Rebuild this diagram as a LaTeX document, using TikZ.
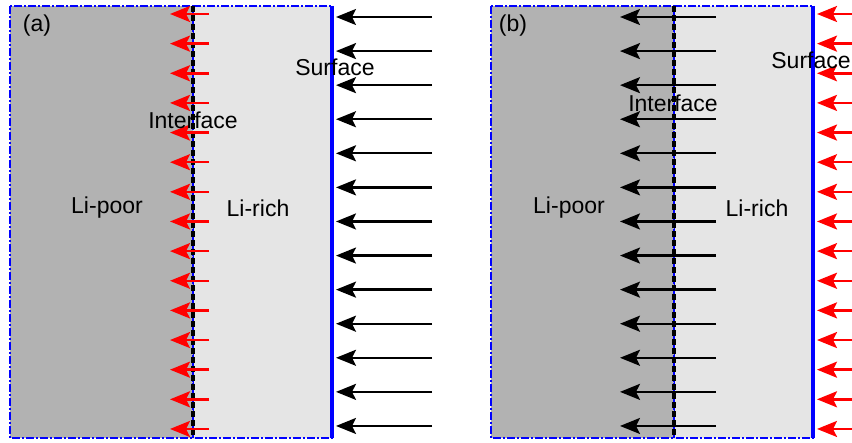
\documentclass[tikz,border=0pt]{standalone}
\usepackage{fontspec}
\setmainfont{Liberation Sans}
\usetikzlibrary{arrows.meta}
\definecolor{poor}{gray}{0.70}
\definecolor{rich}{gray}{0.90}
\tikzset{
  lbl/.style={font=\fontsize{23}{27}\selectfont, inner sep=0pt},
  region/.style={draw=blue, line width=1.3pt, dash pattern=on 8pt off 2pt on 2pt off 2pt},
  surf/.style={blue, line width=3.2pt},
  iface/.style={black, line width=4pt, dash pattern=on 6pt off 3pt},
  iline/.style={blue, line width=1pt, dash pattern=on 6pt off 2pt on 1.5pt off 2pt},
  blackarr/.style={black, line width=2.3pt, -{Stealth[length=20pt, width=16pt, inset=4pt]}},
  redarr/.style={red, line width=2.5pt, -{Stealth[length=20pt, width=16pt, inset=4pt]}},
}
\begin{document}
\begin{tikzpicture}[x=1pt, y=-1pt]
\useasboundingbox (0,0) rectangle (852,443);
\clip (0,0) rectangle (852,443);
% ---------- panel (a) ----------
\fill[poor] (10,6) rectangle (193,438);
\fill[rich] (193,6) rectangle (332,438);
\draw[region] (10,6) rectangle (193,438);
\draw[region] (193,6) rectangle (332,438);
\coordinate (aIT) at (193,6); \coordinate (aIB) at (193,438);
\coordinate (aST) at (332,6); \coordinate (aSB) at (332,438);
\draw[iline] (aIT) -- (aIB);
\draw[iface] (aIT) -- (aIB);
\draw[surf] (aST) -- (aSB);
\foreach \i in {0,...,12} {
  \coordinate (abt\i) at (432, 17+34.08*\i);
  \coordinate (abh\i) at (336, 17+34.08*\i);
  \draw[blackarr] (abt\i) -- (abh\i);
}
\foreach \i in {0,...,14} {
  \coordinate (art\i) at (209, 14+29.64*\i);
  \coordinate (arh\i) at (170, 14+29.64*\i);
  \draw[redarr] (art\i) -- (arh\i);
}
\node[lbl] (alab) at (37,26) {(a)};
\node[lbl] (apoor) at (107,208) {Li-poor};
\node[lbl] (arich) at (258,208) {Li-rich};
\node[lbl] (aint) at (193,120) {Interface};
\node[lbl] (asurf) at (335,67) {Surface};
% ---------- panel (b) ----------
\fill[poor] (491,6) rectangle (674,438);
\fill[rich] (674,6) rectangle (813,438);
\draw[region] (491,6) rectangle (674,438);
\draw[region] (674,6) rectangle (813,438);
\coordinate (bIT) at (674,6); \coordinate (bIB) at (674,438);
\coordinate (bST) at (813,6); \coordinate (bSB) at (813,438);
\draw[iline] (bIT) -- (bIB);
\draw[iface] (bIT) -- (bIB);
\draw[surf] (bST) -- (bSB);
\foreach \i in {0,...,12} {
  \coordinate (bbt\i) at (716, 17+34.08*\i);
  \coordinate (bbh\i) at (620, 17+34.08*\i);
  \draw[blackarr] (bbt\i) -- (bbh\i);
}
\foreach \i in {0,...,14} {
  \coordinate (brt\i) at (856, 14+29.64*\i);
  \coordinate (brh\i) at (817, 14+29.64*\i);
  \draw[redarr] (brt\i) -- (brh\i);
}
\node[lbl] (blab) at (513,26) {(b)};
\node[lbl] (bpoor) at (569,208) {Li-poor};
\node[lbl] (brich) at (757,208) {Li-rich};
\node[lbl] (bint) at (673,103) {Interface};
\node[lbl] (bsurf) at (811,60) {Surface};
\end{tikzpicture}
\end{document}
